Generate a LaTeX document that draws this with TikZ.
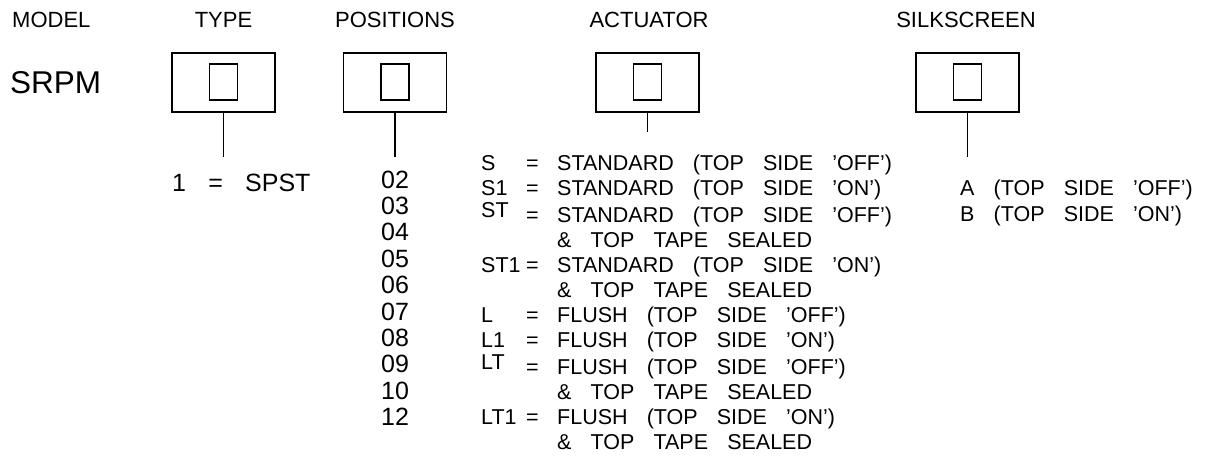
\documentclass[tikz,border=0pt]{standalone}
\usepackage{fontspec}
\setmainfont{Liberation Sans}[WordSpace=3.2]
\usepackage{tikz}

\tikzset{
    codebox/.style={draw, line width=1.8pt, minimum width=103pt, minimum height=59pt, inner sep=0pt},
    slot/.style={draw, line width=1.8pt, minimum width=28pt, minimum height=36pt, inner sep=0pt},
    hdr/.style={anchor=base, inner sep=0pt, font=\fontsize{22}{25}\selectfont},
    big/.style={anchor=base west, inner sep=0pt, font=\fontsize{25}{26.4}\selectfont},
    small/.style={anchor=base west, inner sep=0pt, font=\fontsize{21.5}{25}\selectfont},
    lead/.style={line width=1.8pt},
}
\newcommand{\up}[1]{\raisebox{5pt}{#1}}

\begin{document}
\begin{tikzpicture}[x=1pt, y=-1pt]
    \useasboundingbox (0,0) rectangle (1225,458);

    \node[hdr, anchor=base west] at (12, 27) (model) {MODEL};
    \node[hdr] at (223.5, 27) (h1) {TYPE};
    \node[hdr] at (395, 27) (h2) {POSITIONS};
    \node[hdr] at (649, 27) (h3) {ACTUATOR};
    \node[hdr] at (966, 27) (h4) {SILKSCREEN};
    \node[anchor=base west, inner sep=0pt, font=\fontsize{31.5}{32}\selectfont] at (10, 93) (srpm) {SRPM};

    \node[codebox] at (223.5, 82.5) (type) {};
    \node[codebox] at (395, 82.5) (pos) {};
    \node[codebox] at (647.5, 82.5) (act) {};
    \node[codebox] at (967.5, 82.5) (silk) {};
    \node[slot] at (223.5, 82) (type-s) {};
    \node[slot] at (395, 82) (pos-s) {};
    \node[slot] at (647.5, 82) (act-s) {};
    \node[slot] at (967.5, 82) (silk-s) {};

    \coordinate (t1) at (223.5, 157);
    \coordinate (t2) at (395, 157);
    \coordinate (t3) at (647.5, 132);
    \coordinate (t4) at (967.5, 157);

    \draw[lead] (type.south) -- (t1);
    \draw[lead] (pos.south) -- (t2);
    \draw[lead] (act.south) -- (t3);
    \draw[lead] (silk.south) -- (t4);

    \node[big] at (172, 191) (typelist) {1 = SPST};
    \node[big, anchor=base] at (395, 188) (poslist) {\begin{tabular}[t]{@{}c@{}}
        02\\03\\04\\05\\06\\07\\08\\09\\10\\12
    \end{tabular}};
    \node[small] at (481, 170) (actlist) {\begin{tabular}[t]{@{}p{45pt}@{}p{31pt}@{}l@{}}
        S & = & STANDARD (TOP SIDE 'OFF')\\
        S1 & = & STANDARD (TOP SIDE 'ON')\\
        \up{ST} & = & STANDARD (TOP SIDE 'OFF')\\
        & & \& TOP TAPE SEALED\\
        ST1 & = & STANDARD (TOP SIDE 'ON')\\
        & & \& TOP TAPE SEALED\\
        L & = & FLUSH (TOP SIDE 'OFF')\\
        L1 & = & FLUSH (TOP SIDE 'ON')\\
        \up{LT} & = & FLUSH (TOP SIDE 'OFF')\\
        & & \& TOP TAPE SEALED\\
        LT1 & = & FLUSH (TOP SIDE 'ON')\\
        & & \& TOP TAPE SEALED
    \end{tabular}};
    \node[small, font=\fontsize{21.5}{26}\selectfont] at (960, 195) (silklist) {\begin{tabular}[t]{@{}l@{}}
        A (TOP SIDE 'OFF')\\
        B (TOP SIDE 'ON')
    \end{tabular}};
\end{tikzpicture}
\end{document}
